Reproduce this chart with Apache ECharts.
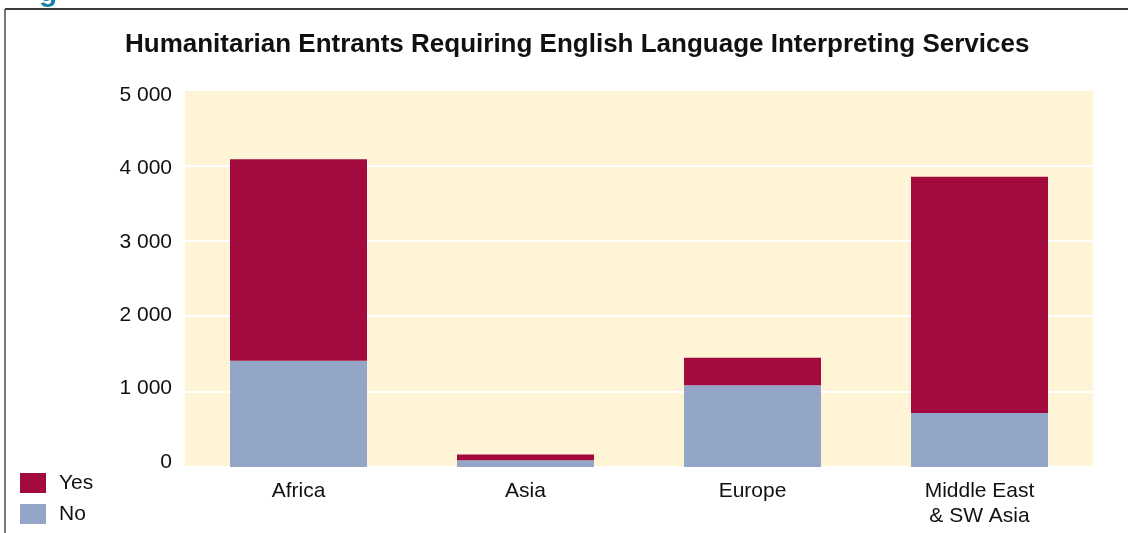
<!DOCTYPE html>
<html>
<head>
<meta charset="utf-8">
<style>
  html, body { margin: 0; padding: 0; background: #ffffff; }
  #chart { width: 1128px; height: 533px; }
</style>
<script src="https://cdn.jsdelivr.net/npm/echarts@6/dist/echarts.min.js"></script>
</head>
<body>
<div id="chart"></div>
<script>
// Regions of origin
const regions = ['Africa', 'Asia', 'Europe', 'Middle East\n& SW Asia'];
// Entrants requiring interpreting services
const yesValues = [2670, 75, 365, 3135];
// Entrants not requiring interpreting services
const noValues = [1410, 90, 1085, 715];
// Value axis
const yMin = 0;
const yMax = 5000;
const yStep = 1000;
const yTickValues = [0, 1000, 2000, 3000, 4000, 5000];

const FONT = '"Liberation Sans", Arial, sans-serif';

const chart = echarts.init(document.getElementById('chart'), null, { renderer: 'canvas' });

function spaced(v) {
  return String(v).replace(/\B(?=(\d{3})+(?!\d))/g, ' ');
}

chart.setOption({
  animation: false,
  backgroundColor: '#ffffff',
  title: {
    text: 'Humanitarian Entrants Requiring English Language Interpreting Services',
    left: 120,
    top: 27,
    textStyle: { fontFamily: FONT, fontSize: 26, fontWeight: 'bold', color: '#111111' }
  },
  legend: {
    orient: 'vertical',
    left: 20,
    top: 471,
    padding: 0,
    itemWidth: 26,
    itemHeight: 20,
    itemGap: 7,
    icon: 'rect',
    data: ['Yes', 'No'],
    textStyle: { fontFamily: FONT, fontSize: 21, color: '#111111', padding: [3, 0, 0, 8], lineHeight: 21 }
  },
  grid: {
    left: 185,
    right: 35,
    top: 90,
    bottom: 66,
    show: true,
    backgroundColor: '#fff5d6',
    borderWidth: 0
  },
  xAxis: {
    type: 'category',
    data: regions,
    axisLine: { show: false },
    axisTick: { show: false },
    axisLabel: {
      fontFamily: FONT, fontSize: 21, color: '#111111',
      margin: 12, lineHeight: 25, interval: 0
    }
  },
  yAxis: [
    {
      type: 'value',
      min: yMin,
      max: yMax,
      interval: yStep,
      axisLine: { show: false },
      axisTick: { show: false },
      splitLine: { show: true, lineStyle: { color: '#ffffff', width: 2 } },
      axisLabel: { show: false }
    },
    {
      // label-only axis, slightly tighter than the gridlines
      type: 'value',
      position: 'left',
      min: -68,
      max: 5068,
      axisLine: { show: false },
      axisTick: { show: false },
      splitLine: { show: false },
      axisLabel: {
        fontFamily: FONT, fontSize: 21, color: '#111111', margin: 13,
        customValues: yTickValues,
        formatter: spaced
      }
    }
  ],
  series: [
    {
      name: 'No',
      type: 'bar',
      stack: 'total',
      barWidth: 137,
      data: noValues,
      itemStyle: { color: '#93a6c7' }
    },
    {
      name: 'Yes',
      type: 'bar',
      stack: 'total',
      barWidth: 137,
      data: yesValues,
      itemStyle: { color: '#a30b3f' }
    }
  ],
  graphic: [
    // frame around the figure
    { type: 'line', shape: { x1: 5, y1: 9, x2: 1128, y2: 9 }, style: { stroke: '#3c3c3c', lineWidth: 2 }, silent: true },
    { type: 'line', shape: { x1: 5, y1: 9, x2: 5, y2: 533 }, style: { stroke: '#4a4a4a', lineWidth: 1.5 }, silent: true },
    // tail of the heading above the frame
    { type: 'text', left: 39, top: -22, style: { text: 'g', fontFamily: FONT, fontSize: 30, fontWeight: 'bold', fill: '#1b80a8' }, silent: true }
  ]
});
</script>
</body>
</html>
